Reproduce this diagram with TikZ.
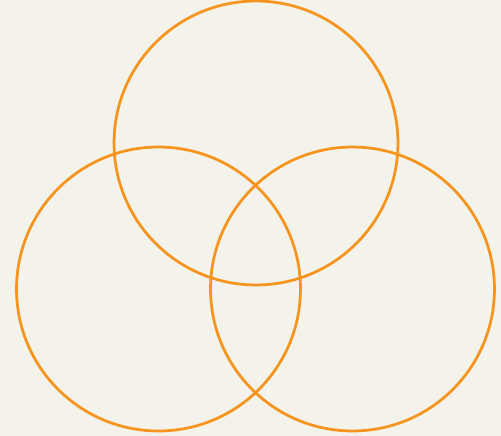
\documentclass[tikz,border=0pt]{standalone}
\usepackage{tikz}
\usetikzlibrary{positioning}
\definecolor{paper}{HTML}{F3F2EB}
\definecolor{ringorange}{HTML}{F7941D}

\begin{document}
\begin{tikzpicture}[
  x=0.02cm, y=-0.02cm,
  ring/.style={draw=ringorange, circle, line width=0.055cm, inner sep=0pt, minimum size=5.68cm}
]

% background and bounding box
\fill[paper] (0,0) rectangle (501,436);
\useasboundingbox (0,0) rectangle (501,436);

% three overlapping rings
\node[ring] (top) at (256,143) {};
\node[ring] (left) at (158.5,289) {};
\node[ring] (right) at (352.5,289) {};

\end{tikzpicture}
\end{document}
